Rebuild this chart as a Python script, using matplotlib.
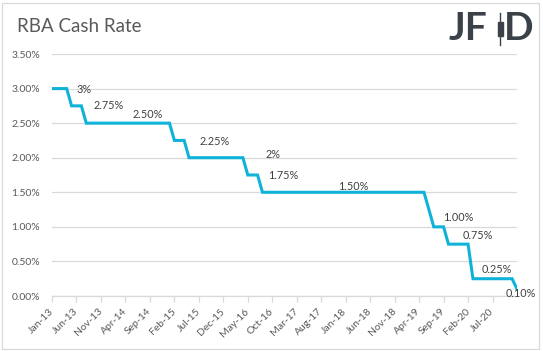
import numpy as np
import pandas as pd
import matplotlib
matplotlib.use('Agg')
import matplotlib.pyplot as plt

# monthly cash rate (%), Jan-13 .. Dec-20
rate_2013 = [3.00, 3.00, 3.00, 3.00, 2.75, 2.75, 2.75, 2.50, 2.50, 2.50, 2.50, 2.50]
rate_2014 = [2.50, 2.50, 2.50, 2.50, 2.50, 2.50, 2.50, 2.50, 2.50, 2.50, 2.50, 2.50]
rate_2015 = [2.50, 2.25, 2.25, 2.25, 2.00, 2.00, 2.00, 2.00, 2.00, 2.00, 2.00, 2.00]
rate_2016 = [2.00, 2.00, 2.00, 2.00, 1.75, 1.75, 1.75, 1.50, 1.50, 1.50, 1.50, 1.50]
rate_2017 = [1.50, 1.50, 1.50, 1.50, 1.50, 1.50, 1.50, 1.50, 1.50, 1.50, 1.50, 1.50]
rate_2018 = [1.50, 1.50, 1.50, 1.50, 1.50, 1.50, 1.50, 1.50, 1.50, 1.50, 1.50, 1.50]
rate_2019 = [1.50, 1.50, 1.50, 1.50, 1.50, 1.25, 1.00, 1.00, 1.00, 0.75, 0.75, 0.75]
rate_2020 = [0.75, 0.75, 0.25, 0.25, 0.25, 0.25, 0.25, 0.25, 0.25, 0.25, 0.25, 0.10]

rates = rate_2013 + rate_2014 + rate_2015 + rate_2016 + rate_2017 + rate_2018 + rate_2019 + rate_2020
months = pd.date_range('2013-01-01', periods=len(rates), freq='MS')

# data labels: text, x (month index), y (%)
label_text = ['3%', '2.75%', '2.50%', '2.25%', '2%', '1.75%', '1.50%', '1.00%', '0.75%', '0.25%', '0.10%']
label_x = [5.1, 8.4, 16.5, 30.2, 43.7, 44.1, 58.4, 79.9, 83.8, 87.8, 92.7]
label_y = [2.99, 2.75, 2.63, 2.24, 2.04, 1.74, 1.59, 1.13, 0.87, 0.39, 0.03]

grid_c = '#d9d9d9'
text_c = '#595959'

plt.rcParams['font.family'] = ['Lato', 'DejaVu Sans']

fig = plt.figure(figsize=(5.43, 3.51), dpi=100)
W, H = 543.0, 351.0
ax = fig.add_axes([52 / W, (H - 296) / H, (517 - 52) / W, (296 - 54) / H])

x = np.arange(len(rates))
ax.plot(x, rates, color='#0fb3d9', lw=2.2, solid_joinstyle='miter', zorder=3)

ax.set_xlim(0, len(rates) - 1)
ax.set_ylim(0, 3.5)
ax.set_yticks(np.arange(0, 3.51, 0.5))
ax.set_yticklabels(['%.2f%%' % v for v in np.arange(0, 3.51, 0.5)])
ax.yaxis.grid(True, color=grid_c, lw=0.9)
ax.set_axisbelow(True)

xt = x[:91:5]
ax.set_xticks(xt)
ax.set_xticklabels([months[i].strftime('%b-%y') for i in xt], rotation=45,
                   ha='right', va='center', rotation_mode='anchor')

for s in ['top', 'right', 'left']:
    ax.spines[s].set_visible(False)
ax.spines['bottom'].set_color(grid_c)
ax.spines['bottom'].set_linewidth(0.9)
ax.tick_params(axis='x', colors=grid_c, length=4, width=0.9, labelcolor=text_c,
               labelsize=7.5, pad=6)
ax.tick_params(axis='y', length=0, labelcolor=text_c, labelsize=7.5, pad=8.5)

for t, lx, ly in zip(label_text, label_x, label_y):
    ax.text(lx, ly, t, ha='left', va='center', fontsize=7.8, color='#404040', zorder=4)

fig.text(17 / W, 1 - 26 / H, 'RBA Cash Rate', ha='left', va='center',
         fontsize=13.5, color=text_c)

# logo
logo_c = '#3b4148'
fig.text(449 / W, 1 - 29 / H, 'JF', ha='left', va='center', fontsize=28,
         fontweight='bold', color=logo_c)
fig.text(504 / W, 1 - 29 / H, 'D', ha='left', va='center', fontsize=28,
         fontweight='bold', color=logo_c)
fig.add_artist(plt.Line2D([500 / W, 500 / W], [1 - 13 / H, 1 - 45 / H], color=logo_c, lw=1.0))
fig.add_artist(plt.Rectangle((497.5 / W, 1 - 36 / H), 5 / W, 14 / H, color=logo_c))

# outer border
fig.add_artist(plt.Rectangle((2 / W, 2 / H), 537 / W, 346 / H, fill=False,
                             edgecolor=grid_c, lw=0.9))

fig.savefig('out.png', dpi=100)
